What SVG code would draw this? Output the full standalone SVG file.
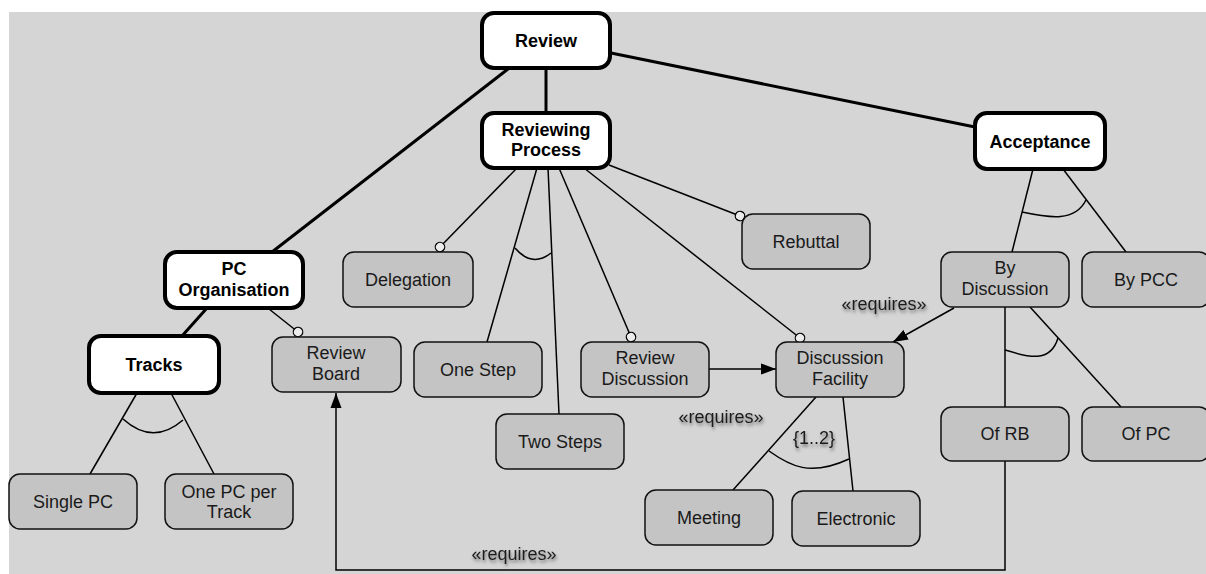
<svg xmlns="http://www.w3.org/2000/svg" width="1206" height="574" viewBox="0 0 1206 574">
<style>
.n rect{fill:#c4c4c4;stroke:#111;stroke-width:1.5}
.b rect{fill:#fff;stroke:#000;stroke-width:4}
text{font-family:"Liberation Sans",Arial,sans-serif;font-size:18px;text-anchor:middle;fill:#1a1a1a}
.b text{font-weight:bold;fill:#000}
.thick{stroke:#000;stroke-width:3;fill:none}
.thin{stroke:#000;stroke-width:1.5;fill:none}
.lbl{filter:url(#sh)}
</style>
<defs>
<marker id="circ" markerUnits="userSpaceOnUse" markerWidth="14" markerHeight="14" refX="7" refY="7" orient="auto">
<circle cx="7" cy="7" r="4.7" fill="#ececec" stroke="#000" stroke-width="1.3"/>
</marker>
<marker id="arr" markerUnits="userSpaceOnUse" markerWidth="16" markerHeight="12" refX="15" refY="6" orient="auto">
<path d="M0,0.5 L15,6 L0,11.5 z" fill="#000"/>
</marker>
<filter id="sh" x="-20%" y="-40%" width="140%" height="200%">
<feDropShadow dx="1" dy="2.5" stdDeviation="1.6" flood-color="#444" flood-opacity="0.7"/>
</filter>
</defs>
<rect x="9" y="12" width="1197" height="562" fill="#d5d5d5"/>
<g id="connectors">
<line class="thick" x1="546" y1="68" x2="546" y2="113"/>
<line class="thick" x1="508" y1="69" x2="272" y2="252"/>
<line class="thick" x1="611" y1="53" x2="975" y2="127"/>
<line class="thick" x1="207" y1="308" x2="182" y2="336"/>
<line class="thin" x1="269" y1="309" x2="298" y2="332" marker-end="url(#circ)"/>
<line class="thin" x1="137" y1="393" x2="90" y2="474"/>
<line class="thin" x1="171" y1="393" x2="214" y2="474"/>
<path class="thin" d="M123,419 Q153,446 183,420"/>
<line class="thin" x1="517" y1="168" x2="440" y2="247" marker-end="url(#circ)"/>
<line class="thin" x1="537" y1="168" x2="487" y2="342"/>
<line class="thin" x1="548" y1="168" x2="559" y2="414"/>
<path class="thin" d="M515,248 Q532,268 551,253"/>
<line class="thin" x1="559" y1="168" x2="631" y2="337" marker-end="url(#circ)"/>
<line class="thin" x1="584" y1="168" x2="800" y2="338" marker-end="url(#circ)"/>
<line class="thin" x1="609" y1="165" x2="740" y2="216" marker-end="url(#circ)"/>
<line class="thin" x1="709" y1="369" x2="776" y2="369" marker-end="url(#arr)"/>
<line class="thin" x1="954" y1="308" x2="893" y2="342" marker-end="url(#arr)"/>
<line class="thin" x1="1033" y1="169" x2="1012" y2="252"/>
<line class="thin" x1="1063" y1="169" x2="1126" y2="252"/>
<path class="thin" d="M1022,212 C1050,218 1075,222 1086,200"/>
<line class="thin" x1="1005" y1="307" x2="1005" y2="407"/>
<line class="thin" x1="1030" y1="307" x2="1121" y2="407"/>
<path class="thin" d="M1005,350 C1025,356 1050,365 1058,338"/>
<line class="thin" x1="816" y1="397" x2="733" y2="490"/>
<line class="thin" x1="843" y1="397" x2="853" y2="491"/>
<path class="thin" d="M769,451 C790,466 810,477 849,459"/>
<polyline class="thin" points="1005,461 1005,570 336,570 336,393" marker-end="url(#arr)"/>
<text class="lbl" x="721" y="423">«requires»</text>
<text class="lbl" x="884" y="310">«requires»</text>
<text class="lbl" x="514" y="560">«requires»</text>
<text class="lbl" x="814" y="444">{1..2}</text>
</g>
<g id="review" class="b"><rect x="482" y="13" width="128" height="55" rx="12"/><text x="546" y="47">Review</text></g>
<g id="reviewing-process" class="b"><rect x="482" y="113" width="128" height="55" rx="12"/><text x="546" y="136">Reviewing</text><text x="546" y="156">Process</text></g>
<g id="acceptance" class="b"><rect x="975" y="113" width="130" height="56" rx="12"/><text x="1040" y="148">Acceptance</text></g>
<g id="pc-organisation" class="b"><rect x="165" y="252" width="138" height="56" rx="12"/><text x="234" y="275">PC</text><text x="234" y="296">Organisation</text></g>
<g id="tracks" class="b"><rect x="89" y="336" width="130" height="57" rx="12"/><text x="154" y="371">Tracks</text></g>
<g id="review-board" class="n"><rect x="272" y="337" width="129" height="55" rx="11"/><text x="336" y="359">Review</text><text x="336" y="380">Board</text></g>
<g id="single-pc" class="n"><rect x="9" y="474" width="128" height="55" rx="11"/><text x="73" y="508">Single PC</text></g>
<g id="one-pc-per-track" class="n"><rect x="165" y="474" width="128" height="55" rx="11"/><text x="229" y="498">One PC per</text><text x="229" y="518">Track</text></g>
<g id="delegation" class="n"><rect x="343" y="252" width="130" height="55" rx="11"/><text x="408" y="286">Delegation</text></g>
<g id="one-step" class="n"><rect x="414" y="342" width="128" height="55" rx="11"/><text x="478" y="376">One Step</text></g>
<g id="two-steps" class="n"><rect x="496" y="414" width="128" height="55" rx="11"/><text x="560" y="448">Two Steps</text></g>
<g id="review-discussion" class="n"><rect x="581" y="342" width="128" height="55" rx="11"/><text x="645" y="364">Review</text><text x="645" y="385">Discussion</text></g>
<g id="discussion-facility" class="n"><rect x="776" y="342" width="128" height="55" rx="11"/><text x="840" y="364">Discussion</text><text x="840" y="385">Facility</text></g>
<g id="rebuttal" class="n"><rect x="742" y="214" width="128" height="55" rx="11"/><text x="806" y="248">Rebuttal</text></g>
<g id="meeting" class="n"><rect x="645" y="490" width="128" height="55" rx="11"/><text x="709" y="524">Meeting</text></g>
<g id="electronic" class="n"><rect x="792" y="491" width="128" height="55" rx="11"/><text x="856" y="525">Electronic</text></g>
<g id="by-discussion" class="n"><rect x="941" y="252" width="128" height="55" rx="11"/><text x="1005" y="274">By</text><text x="1005" y="295">Discussion</text></g>
<g id="by-pcc" class="n"><rect x="1082" y="252" width="128" height="55" rx="11"/><text x="1146" y="286">By PCC</text></g>
<g id="of-rb" class="n"><rect x="941" y="407" width="128" height="54" rx="11"/><text x="1005" y="440">Of RB</text></g>
<g id="of-pc" class="n"><rect x="1082" y="407" width="128" height="54" rx="11"/><text x="1146" y="440">Of PC</text></g>
</svg>
